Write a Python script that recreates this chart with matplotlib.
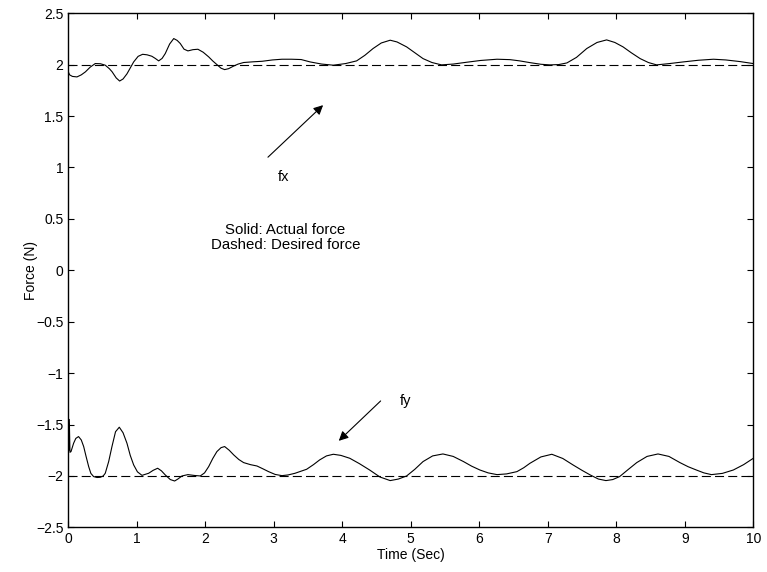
import matplotlib
matplotlib.use('Agg')
import matplotlib.pyplot as plt
from matplotlib.ticker import FuncFormatter

plt.rcParams['font.family'] = ['Liberation Sans', 'DejaVu Sans']
plt.rcParams['lines.scale_dashes'] = False

# fx: actual force in x (N) vs time (s)
t_fx = [0.0, 0.02, 0.06, 0.127, 0.19, 0.25, 0.32, 0.394, 0.47, 0.54,
        0.60, 0.64, 0.70, 0.75, 0.80, 0.857, 0.955, 1.02, 1.086, 1.15,
        1.22, 1.27, 1.32, 1.37, 1.416, 1.48, 1.54, 1.59, 1.635, 1.69,
        1.747, 1.82, 1.893, 1.97, 2.05, 2.11, 2.17, 2.23, 2.283, 2.34,
        2.41, 2.48, 2.56, 2.70, 2.83, 2.98, 3.12, 3.26, 3.40, 3.53,
        3.70, 3.87, 4.05, 4.21, 4.33, 4.45, 4.57, 4.70, 4.80, 4.94,
        5.06, 5.18, 5.31, 5.45, 5.62, 5.82, 6.02, 6.26, 6.45, 6.59,
        6.74, 6.90, 7.03, 7.16, 7.28, 7.42, 7.57, 7.72, 7.86, 7.98,
        8.10, 8.22, 8.35, 8.47, 8.59, 8.78, 8.98, 9.20, 9.42, 9.60,
        9.81, 10.0]
fx = [1.93, 1.90, 1.885, 1.88, 1.90, 1.929, 1.975, 2.01, 2.008, 1.994,
      1.96, 1.93, 1.87, 1.84, 1.86, 1.91, 2.026, 2.08, 2.10, 2.095,
      2.081, 2.06, 2.036, 2.06, 2.107, 2.20, 2.253, 2.235, 2.205, 2.15,
      2.133, 2.145, 2.149, 2.12, 2.075, 2.035, 2.0, 1.965, 1.951, 1.96,
      1.984, 2.005, 2.02, 2.027, 2.032, 2.045, 2.052, 2.052, 2.049, 2.026,
      2.005, 1.994, 2.01, 2.036, 2.09, 2.156, 2.21, 2.237, 2.22, 2.172,
      2.115, 2.058, 2.02, 1.997, 2.005, 2.023, 2.04, 2.052, 2.048, 2.036,
      2.019, 2.003, 1.997, 2.0, 2.016, 2.07, 2.156, 2.215, 2.24, 2.215,
      2.172, 2.115, 2.058, 2.02, 1.997, 2.01, 2.026, 2.042, 2.052, 2.045,
      2.029, 2.01]

# fy: actual force in y (N) vs time (s)
t_fy = [0.0, 0.008, 0.015, 0.025, 0.04, 0.078, 0.11, 0.15, 0.19, 0.225,
        0.26, 0.298, 0.33, 0.37, 0.42, 0.467, 0.51, 0.54, 0.59, 0.638,
        0.69, 0.745, 0.80, 0.857, 0.905, 0.955, 1.01, 1.076, 1.173, 1.24,
        1.305, 1.36, 1.416, 1.49, 1.553, 1.60, 1.66, 1.747, 1.84, 1.927,
        1.99, 2.05, 2.11, 2.17, 2.23, 2.283, 2.35, 2.415, 2.49, 2.56,
        2.66, 2.755, 2.84, 2.925, 3.02, 3.12, 3.21, 3.31, 3.41, 3.48,
        3.58, 3.67, 3.77, 3.87, 3.98, 4.11, 4.25, 4.40, 4.55, 4.70,
        4.82, 4.94, 5.06, 5.18, 5.32, 5.47, 5.62, 5.77, 5.89, 6.01,
        6.13, 6.26, 6.40, 6.55, 6.65, 6.74, 6.90, 7.06, 7.22, 7.37,
        7.50, 7.62, 7.74, 7.85, 7.95, 8.05, 8.17, 8.30, 8.45, 8.61,
        8.77, 8.93, 9.05, 9.17, 9.28, 9.39, 9.55, 9.71, 9.86, 10.0]
fy = [-1.33, -1.75, -1.45, -1.77, -1.763, -1.682, -1.635, -1.617, -1.65, -1.714,
      -1.81, -1.909, -1.975, -2.006, -2.015, -2.013, -2.0, -1.974, -1.86, -1.714,
      -1.57, -1.526, -1.58, -1.682, -1.80, -1.893, -1.96, -1.994, -1.974, -1.945,
      -1.925, -1.95, -1.99, -2.035, -2.049, -2.03, -2.0, -1.987, -1.995, -2.0,
      -1.97, -1.909, -1.83, -1.763, -1.725, -1.714, -1.75, -1.795, -1.84, -1.87,
      -1.89, -1.903, -1.93, -1.958, -1.985, -1.997, -1.99, -1.974, -1.951, -1.935,
      -1.89, -1.844, -1.805, -1.789, -1.80, -1.828, -1.88, -1.942, -2.01, -2.045,
      -2.03, -2.0, -1.935, -1.86, -1.805, -1.786, -1.81, -1.86, -1.905, -1.942,
      -1.97, -1.987, -1.98, -1.958, -1.92, -1.877, -1.815, -1.789, -1.83, -1.893,
      -1.945, -1.99, -2.03, -2.045, -2.035, -2.006, -1.94, -1.87, -1.81, -1.786,
      -1.81, -1.87, -1.91, -1.942, -1.97, -1.987, -1.975, -1.942, -1.89, -1.829]

# desired forces
t_des = [0.0, 10.0]
fx_des = [2.0, 2.0]
fy_des = [-2.0, -2.0]

fig = plt.figure(figsize=(7.67, 5.72), dpi=100)
ax = fig.add_axes([0.089, 0.078, 0.893, 0.899])

ax.plot(t_fx, fx, color='k', lw=0.8)
ax.plot(t_fy, fy, color='k', lw=0.8)
ax.plot(t_des, fx_des, color='k', lw=0.8, dashes=(6.5, 3.0))
ax.plot(t_des, fy_des, color='k', lw=0.8, dashes=(6.5, 3.0))

ax.set_xlim(0, 10)
ax.set_ylim(-2.5, 2.5)
ax.set_xticks(range(0, 11))
ax.set_yticks([-2.5, -2, -1.5, -1, -0.5, 0, 0.5, 1, 1.5, 2, 2.5])
ax.yaxis.set_major_formatter(FuncFormatter(lambda v, p: ('%g' % v).replace('-', '\u2212')))
ax.tick_params(direction='in', length=4, width=0.8, top=True, right=True,
               labelsize=10, colors='k')
for s in ax.spines.values():
    s.set_linewidth(1.0)

ax.set_xlabel('Time (Sec)', fontsize=10, labelpad=1)
ax.set_ylabel('Force (N)', fontsize=10)
ax.yaxis.set_label_coords(-0.044, 0.5)

# arrows pointing at each curve
ax.annotate('', xy=(3.75, 1.624), xytext=(2.886, 1.081),
            arrowprops=dict(arrowstyle='-|>', color='k', lw=0.8, mutation_scale=14))
ax.text(3.15, 0.905, 'fx', fontsize=10.5, ha='center', va='center')

ax.annotate('', xy=(3.92, -1.677), xytext=(4.59, -1.252),
            arrowprops=dict(arrowstyle='-|>', color='k', lw=0.8, mutation_scale=14))
ax.text(4.84, -1.27, 'fy', fontsize=10.5, ha='left', va='center')

ax.text(3.17, 0.32, 'Solid: Actual force\nDashed: Desired force',
        fontsize=10.8, ha='center', va='center', linespacing=1.15)

fig.savefig('out.png', dpi=100)
